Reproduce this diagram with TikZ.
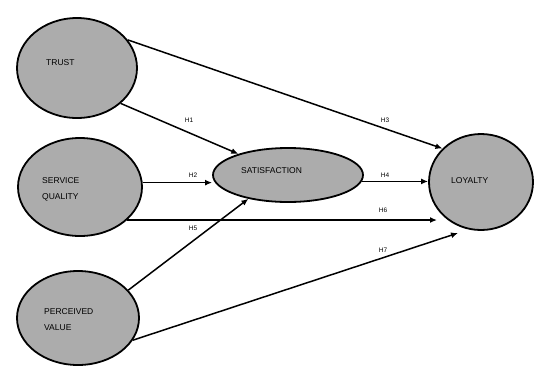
\documentclass[tikz,border=0pt]{standalone}
\usepackage{fontspec}
\setmainfont{Liberation Sans}
\usetikzlibrary{shapes.geometric,arrows.meta}
\definecolor{ellfill}{RGB}{172,172,172}
\tikzset{
  latent/.style={ellipse,draw=black,line width=1.8pt,fill=ellfill,inner sep=0pt},
  lbl/.style={font=\fontsize{8.5}{16}\selectfont,anchor=west,align=left,inner sep=0pt},
  hyp/.style={font=\fontsize{6.5}{7}\selectfont,inner sep=0pt},
  path/.style={draw=black,line width=1.5pt,-{Latex[length=7pt,width=6pt]}}
}
\begin{document}
\begin{tikzpicture}[x=1pt,y=-1pt]
\useasboundingbox (0,0) rectangle (535,365);
\node[latent,minimum width=120pt,minimum height=100pt] (trust) at (77,68) {};
\node[latent,minimum width=124pt,minimum height=98pt] (sq) at (80,187) {};
\node[latent,minimum width=122pt,minimum height=94pt] (pv) at (78,318) {};
\node[latent,minimum width=150pt,minimum height=54pt] (sat) at (288,175) {};
\node[latent,minimum width=104pt,minimum height=96pt] (loy) at (481,182) {};
\node[lbl] (trustT) at (46,63) {TRUST};
\node[lbl] (sqT) at (42,189) {SERVICE\\QUALITY};
\node[lbl] (pvT) at (44,320) {PERCEIVED\\VALUE};
\node[lbl] (satT) at (241,171) {SATISFACTION};
\node[lbl] (loyT) at (451,181) {LOYALTY};
\coordinate (h6e) at (437,219);
\coordinate (h7e) at (458,233);
\draw[path] (trust.29) -- (loy.139);
\draw[path] (trust.-39) -- (sat.157);
\draw[path] (sq.4) -- (sq.4 -| sat.west);
\draw[path] (sat.-5) -- (sat.-5 -| loy.west);
\draw[path] (sq.-35) -- (sq.-35 -| h6e);
\draw[path] (pv.29) -- (sat.211);
\draw[path] (pv.-22) -- (h7e);
\node[hyp] (h1) at (189,120) {H1};
\node[hyp] (h2) at (193,175) {H2};
\node[hyp] (h5) at (193,228) {H5};
\node[hyp] (h3) at (385,120) {H3};
\node[hyp] (h4) at (385,175) {H4};
\node[hyp] (h6) at (383,210) {H6};
\node[hyp] (h7) at (383,250) {H7};
\end{tikzpicture}
\end{document}
